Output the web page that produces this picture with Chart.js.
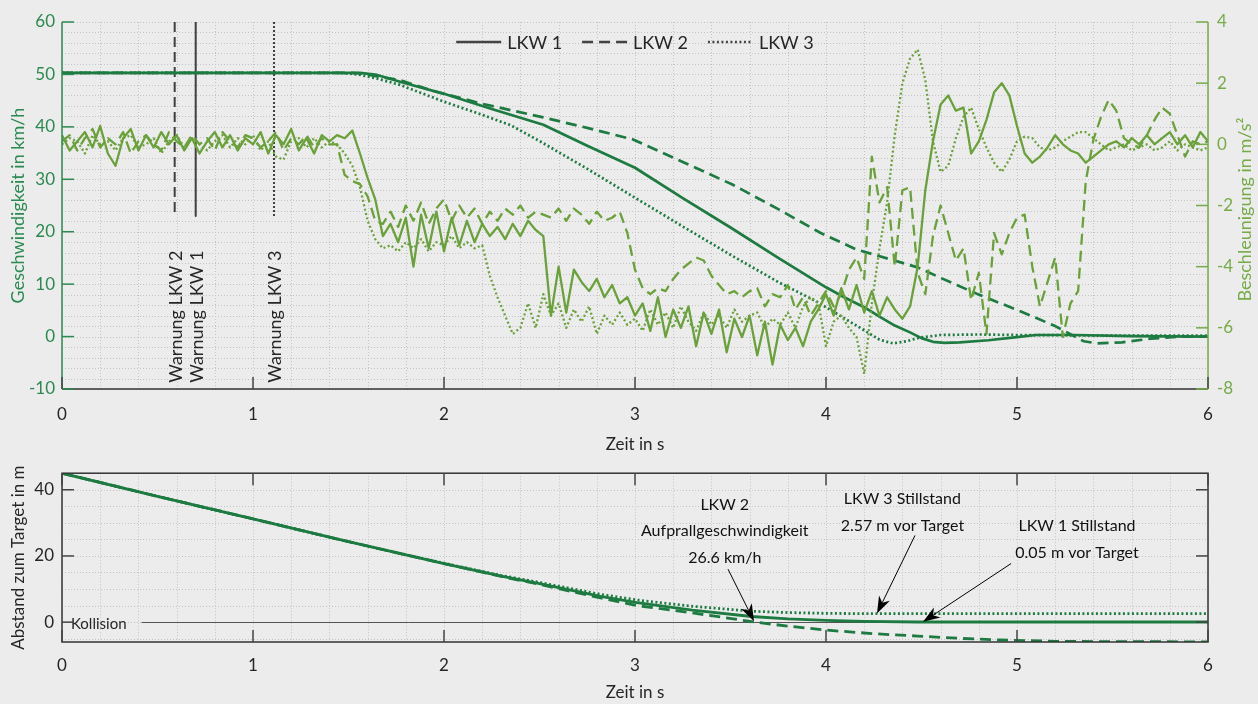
<!DOCTYPE html>
<html>
<head>
<meta charset="utf-8">
<script src="https://cdn.jsdelivr.net/npm/chart.js@4.4.1/dist/chart.umd.min.js"></script>
<style>
  html, body { margin: 0; padding: 0; background: #ececec; }
  #wrap { position: relative; width: 1258px; height: 704px; overflow: hidden; }
  #topChart { position: absolute; left: 0; top: 0; }
  #bottomChart { position: absolute; left: 0; top: 455px; }
</style>
</head>
<body>
<div id="wrap">
  <canvas id="topChart" width="1258" height="455"></canvas>
  <canvas id="bottomChart" width="1258" height="249"></canvas>
</div>
<script>
// ---- data ----
const trucks = ["LKW 1", "LKW 2", "LKW 3"];

// speed in km/h
const speedT1 = [0, 1.5, 1.56, 1.65, 1.77, 2.0, 2.25, 2.52, 2.75, 3.0, 3.25, 3.5, 3.75, 4.0, 4.1, 4.2, 4.28, 4.36, 4.44, 4.5, 4.56, 4.62, 4.7, 4.85, 5.0, 5.1, 5.3, 5.6, 6.0];
const speedV1 = [50.3, 50.3, 50.3, 49.9, 48.6, 46.3, 43.4, 40.4, 36.4, 32.2, 26.4, 20.8, 15.0, 9.4, 7.4, 5.6, 3.8, 2.1, 0.8, -0.3, -1.0, -1.2, -1.1, -0.7, -0.1, 0.3, 0.3, 0.1, 0.0];
const speedT2 = [0, 1.5, 1.56, 1.77, 1.94, 2.2, 2.52, 2.75, 2.99, 3.25, 3.51, 3.75, 3.97, 4.16, 4.48, 4.6, 4.8, 5.02, 5.2, 5.35, 5.42, 5.55, 5.7, 5.85, 6.0];
const speedV2 = [50.3, 50.3, 50.2, 48.9, 46.9, 44.4, 41.8, 39.8, 37.6, 33.3, 29.0, 24.3, 19.8, 16.6, 13.2, 11.2, 8.0, 4.8, 2.0, -0.9, -1.3, -1.1, -0.4, 0.0, 0.0];
const speedT3 = [0, 1.45, 1.55, 1.65, 1.77, 2.0, 2.2, 2.35, 2.5, 2.75, 2.99, 3.25, 3.5, 3.75, 3.95, 4.1, 4.2, 4.28, 4.35, 4.42, 4.49, 4.6, 4.8, 5.0, 5.5, 6.0];
const speedV3 = [50.3, 50.3, 50.0, 49.2, 48.0, 44.8, 42.3, 40.3, 37.3, 32.0, 26.7, 21.0, 15.6, 10.4, 6.7, 3.4, 1.2, -0.6, -1.3, -0.9, -0.2, 0.3, 0.4, 0.3, 0.2, 0.2];

// acceleration in m/s^2, sampled every 0.04 s
const accT = [
  0, 0.04, 0.08, 0.12, 0.16, 0.2, 0.24, 0.28, 0.32, 0.36, 0.4, 0.44, 0.48, 0.52, 0.56, 0.6, 0.64, 0.68, 0.72, 0.76, 0.8, 0.84, 0.88, 0.92, 0.96,
  1, 1.04, 1.08, 1.12, 1.16, 1.2, 1.24, 1.28, 1.32, 1.36, 1.4, 1.44, 1.48, 1.52, 1.56, 1.6, 1.64, 1.68, 1.72, 1.76, 1.8, 1.84, 1.88, 1.92, 1.96,
  2, 2.04, 2.08, 2.12, 2.16, 2.2, 2.24, 2.28, 2.32, 2.36, 2.4, 2.44, 2.48, 2.52, 2.56, 2.6, 2.64, 2.68, 2.72, 2.76, 2.8, 2.84, 2.88, 2.92, 2.96,
  3, 3.04, 3.08, 3.12, 3.16, 3.2, 3.24, 3.28, 3.32, 3.36, 3.4, 3.44, 3.48, 3.52, 3.56, 3.6, 3.64, 3.68, 3.72, 3.76, 3.8, 3.84, 3.88, 3.92, 3.96,
  4, 4.04, 4.08, 4.12, 4.16, 4.2, 4.24, 4.28, 4.32, 4.36, 4.4, 4.44, 4.48, 4.52, 4.56, 4.6, 4.64, 4.68, 4.72, 4.76, 4.8, 4.84, 4.88, 4.92, 4.96,
  5, 5.04, 5.08, 5.12, 5.16, 5.2, 5.24, 5.28, 5.32, 5.36, 5.4, 5.44, 5.48, 5.52, 5.56, 5.6, 5.64, 5.68, 5.72, 5.76, 5.8, 5.84, 5.88, 5.92, 5.96,
  6
];
const acc1 = [
  0.3, -0.2, 0.1, 0.4, -0.1, 0.6, -0.3, -0.7, 0.2, 0.5, -0.2, 0.3, -0.1, 0.4, 0.0, 0.3, -0.2, 0.2, -0.3, 0.1, 0.4, -0.1, 0.3, -0.2, 0.2,
  0.0, 0.4, -0.3, 0.3, 0.0, 0.5, -0.2, 0.2, -0.3, 0.3, 0.1, 0.3, 0.2, 0.45, -0.3, -1.1, -1.8, -3.0, -2.6, -3.2, -2.4, -4.0, -2.3, -3.4, -2.2,
  -3.5, -2.4, -3.3, -2.5, -3.2, -2.6, -3.0, -2.7, -3.1, -2.6, -3.0, -2.5, -2.8, -3.0, -5.6, -4.0, -5.5, -4.1, -4.5, -4.8, -4.4, -5.0, -4.6, -5.2, -5.0,
  -5.6, -5.2, -6.1, -5.0, -6.3, -5.4, -6.0, -5.3, -6.6, -5.5, -6.2, -5.4, -6.8, -5.7, -6.3, -5.6, -6.9, -5.8, -7.2, -5.9, -6.4, -6.0, -6.6, -5.8, -5.4,
  -4.9, -5.6, -4.7, -5.4, -4.6, -5.5, -4.8, -5.6, -5.0, -5.4, -5.7, -5.3, -4.0, -1.5, 0.1, 1.3, 1.6, 1.1, 1.2, -0.3, 0.1, 0.8, 1.7, 2.0, 1.6,
  0.6, -0.3, -0.6, -0.4, -0.1, 0.3, 0.0, -0.2, -0.3, -0.6, -0.4, -0.2, 0.0, 0.1, -0.1, 0.2, 0.0, 0.3, 0.0, 0.2, 0.4, 0.0, 0.3, -0.1, 0.4,
  0.1
];
const acc2 = [
  0.1, 0.3, -0.2, 0.2, 0.5, -0.1, 0.2, 0.0, 0.4, -0.3, 0.1, 0.3, 0.0, -0.2, 0.4, 0.1, -0.1, 0.3, 0.0, 0.2, -0.2, 0.4, 0.1, -0.1, 0.3,
  0.2, -0.1, 0.1, 0.4, -0.2, 0.2, 0.0, 0.3, -0.1, 0.2, 0.0, 0.0, -1.0, -1.2, -1.3, -1.7, -2.5, -2.6, -2.2, -2.7, -2.0, -2.5, -1.9, -2.6, -2.1,
  -1.8, -2.5, -2.0, -2.4, -2.1, -2.6, -2.2, -2.5, -2.1, -2.3, -2.0, -2.4, -2.2, -2.3, -2.4, -2.1, -2.5, -2.1, -2.3, -2.6, -2.2, -2.5, -2.4, -2.2, -2.9,
  -4.1, -4.7, -4.9, -4.7, -4.8, -4.4, -4.1, -3.9, -3.7, -3.8, -4.3, -4.6, -4.9, -4.8, -5.0, -4.8, -4.7, -5.3, -4.9, -5.0, -4.6, -5.4, -5.0, -5.6, -5.2,
  -4.8, -5.3, -4.9, -4.1, -3.7, -4.4, -0.4, -1.9, -1.4, -4.0, -1.5, -1.4, -4.2, -4.9, -3.0, -2.0, -2.9, -3.8, -3.4, -5.1, -4.2, -6.2, -2.9, -3.6, -2.9,
  -2.4, -2.3, -4.0, -5.3, -4.5, -3.7, -6.3, -5.2, -4.8, -1.2, 0.15, 0.9, 1.45, 1.1, 0.2, 0.0, -0.1, 0.3, 0.8, 1.2, 1.0, 0.3, -0.4, 0.1, 0.0,
  0.1
];
const acc3 = [
  0.0, 0.2, 0.1, -0.3, 0.3, 0.0, 0.1, -0.2, 0.2, 0.3, -0.1, 0.0, 0.2, -0.3, 0.1, 0.3, -0.1, 0.2, 0.0, -0.2, 0.1, 0.3, -0.1, 0.2, 0.0,
  0.3, -0.2, 0.1, -0.4, -0.5, 0.1, 0.2, -0.1, 0.2, -0.1, 0.1, 0.0, -0.3, -0.7, -1.4, -2.5, -3.1, -3.4, -3.3, -3.5, -3.2, -3.4, -3.1, -3.5, -3.2,
  -3.3, -3.0, -3.4, -3.2, -3.4, -3.3, -4.3, -5.0, -5.6, -6.2, -6.0, -5.2, -6.0, -4.9, -5.6, -5.2, -6.0, -5.4, -5.8, -5.3, -6.2, -5.6, -5.9, -5.5, -5.9,
  -5.7, -6.1, -5.4, -5.9, -5.5, -6.0, -5.3, -5.8, -6.1, -5.5, -5.9, -5.6, -6.0, -5.4, -5.8, -5.6, -5.5, -6.0, -5.7, -5.9, -5.5, -6.0, -5.3, -5.0, -5.2,
  -6.6, -5.8, -5.6, -6.0, -6.3, -7.5, -5.2, -3.4, -1.9, 0.3, 2.0, 2.8, 3.1, 2.1, 0.1, -0.9, -0.7, 0.2, 0.9, 1.2, 0.5, -0.1, -0.6, -0.9, -0.5,
  0.1, 0.25, 0.2, -0.1, -0.2, -0.1, 0.1, 0.25, 0.4, 0.4, 0.2, 0.0, -0.2, -0.1, 0.0, -0.2, -0.1, 0.0, -0.2, -0.1, 0.1, -0.2, 0.0, -0.1, -0.2,
  -0.1
];

// warnings (time in s)
const warnLabels = ["Warnung LKW 2", "Warnung LKW 1", "Warnung LKW 3"];
const warnTruck = ["LKW 2", "LKW 1", "LKW 3"];
const warnTimes = [0.59, 0.70, 1.11];

// distance to target in m
const distT1 = [0, 0.5, 1.0, 1.5, 2.0, 2.3, 2.5, 2.82, 3.01, 3.3, 3.61, 3.8, 4.0, 4.2, 4.48, 4.7, 6.0];
const distV1 = [45, 38.0, 31.2, 24.3, 17.7, 13.9, 11.6, 7.8, 5.9, 3.6, 1.7, 1.0, 0.56, 0.25, 0.05, 0.05, 0.05];
const distT2 = [0, 0.5, 1.0, 1.5, 2.0, 2.3, 2.5, 2.82, 3.01, 3.3, 3.63, 3.8, 4.0, 4.25, 4.48, 4.7, 4.91, 5.2, 5.5, 6.0];
const distV2 = [45, 38.0, 31.2, 24.3, 17.7, 13.8, 11.4, 7.3, 5.0, 2.8, 0.0, -1.2, -2.4, -3.5, -4.2, -4.9, -5.4, -5.8, -5.9, -5.95];
const distT3 = [0, 0.5, 1.0, 1.5, 2.0, 2.3, 2.5, 2.82, 3.01, 3.3, 3.61, 3.8, 4.0, 4.2, 6.0];
const distV3 = [45, 38.0, 31.2, 24.3, 17.8, 14.1, 12.0, 8.4, 6.7, 4.8, 3.3, 2.9, 2.65, 2.57, 2.57];

// ---- styles ----
const FONT = "Lato";
const INK = "#262626";
const GRID = "#c4c4c4";
const C_SPEED = "#1d7a41";
const C_ACC = "#6aa13a";
const C_SPEED_AX = "#2a8a50";
const C_ACC_AX = "#76ab48";
const dash = { "LKW 1": [], "LKW 2": [11, 6], "LKW 3": [2, 2.5] };
const warnDash = { "LKW 1": [], "LKW 2": [10, 5], "LKW 3": [2, 2] };
const WARN_TOP = 60, WARN_BOTTOM = 23, WARN_LABEL_AT = -8.8;

const pts = (ts, vs) => ts.map((t, i) => ({ x: t, y: vs[i] }));

function line(data, color, width, d, axis) {
  return { data, borderColor: color, borderWidth: width, borderDash: d, yAxisID: axis,
           pointRadius: 0, tension: 0, borderJoinStyle: "round", fill: false };
}

function dottedGrid(ctx, a, xs, ys) {
  ctx.save();
  ctx.strokeStyle = GRID;
  ctx.lineWidth = 1;
  ctx.setLineDash([1, 2]);
  ctx.beginPath();
  xs.forEach(px => { px = Math.round(px) + 0.5; ctx.moveTo(px, a.top); ctx.lineTo(px, a.bottom); });
  ys.forEach(py => { py = Math.round(py) + 0.5; ctx.moveTo(a.left, py); ctx.lineTo(a.right, py); });
  ctx.stroke();
  ctx.restore();
}

function seg(ctx, x0, y0, x1, y1, color, w) {
  ctx.strokeStyle = color;
  ctx.lineWidth = w;
  ctx.beginPath();
  ctx.moveTo(x0, y0);
  ctx.lineTo(x1, y1);
  ctx.stroke();
}

function arrow(ctx, x0, y0, x1, y1) {
  const dx = x1 - x0, dy = y1 - y0, len = Math.hypot(dx, dy);
  const ux = dx / len, uy = dy / len;
  const L = 17, W = 6, N = 12;
  ctx.save();
  ctx.setLineDash([]);
  seg(ctx, x0, y0, x1 - ux * N, y1 - uy * N, "#000", 1);
  ctx.fillStyle = "#000";
  ctx.beginPath();
  ctx.moveTo(x1, y1);
  ctx.lineTo(x1 - ux * L - uy * W, y1 - uy * L + ux * W);
  ctx.lineTo(x1 - ux * N, y1 - uy * N);
  ctx.lineTo(x1 - ux * L + uy * W, y1 - uy * L - ux * W);
  ctx.closePath();
  ctx.fill();
  ctx.restore();
}

const range = (a, b, s) => { const r = []; for (let i = 0; a + i * s <= b + 1e-9; i++) r.push(+(a + i * s).toFixed(4)); return r; };

// ---- top chart: speed + acceleration ----
const topPlugin = {
  id: "topFrame",
  beforeDatasetsDraw(chart) {
    const { ctx, chartArea: a, scales: { x, y } } = chart;
    dottedGrid(ctx, a, range(0, 6, 0.2).map(v => x.getPixelForValue(v)), range(-10, 60, 2).map(v => y.getPixelForValue(v)));
  },
  afterDatasetsDraw(chart) {
    const { ctx, chartArea: a, scales: { x, y, y2 } } = chart;
    ctx.save();
    // spines
    seg(ctx, a.left, a.bottom, a.right, a.bottom, "#333", 1.5);
    seg(ctx, a.left, a.top, a.left, a.bottom, C_SPEED_AX, 1.5);
    seg(ctx, a.right, a.top, a.right, a.bottom, C_ACC_AX, 1.5);
    // ticks
    range(0, 6, 1).forEach(v => { const p = x.getPixelForValue(v); seg(ctx, p, a.bottom, p, a.bottom - 12, "#444", 1.5); });
    range(-10, 60, 10).forEach(v => { const p = y.getPixelForValue(v); seg(ctx, a.left, p, a.left + 12, p, C_SPEED_AX, 1.5); });
    range(-8, 4, 2).forEach(v => { const p = y2.getPixelForValue(v); seg(ctx, a.right, p, a.right - 12, p, C_ACC_AX, 1.5); });

    // right axis title, reading upwards like the left one
    ctx.font = "18px " + FONT;
    ctx.fillStyle = C_ACC_AX;
    ctx.textAlign = "center";
    ctx.textBaseline = "middle";
    ctx.save();
    ctx.translate(a.right + 37, (a.top + a.bottom) / 2 + 4);
    ctx.rotate(-Math.PI / 2);
    ctx.fillText("Beschleunigung in m/s²", 0, 0);
    ctx.restore();

    // warning labels
    ctx.fillStyle = INK;
    ctx.textAlign = "left";
    warnTimes.forEach((t, i) => {
      ctx.save();
      ctx.translate(x.getPixelForValue(t) + 1, y.getPixelForValue(WARN_LABEL_AT));
      ctx.rotate(-Math.PI / 2);
      ctx.fillText(warnLabels[i], 0, 0);
      ctx.restore();
    });

    // legend
    const sample = 45, gapS = 6, gapI = 20;
    const widths = trucks.map(t => ctx.measureText(t).width);
    const total = widths.reduce((s, w) => s + sample + gapS + w, 0) + gapI * (trucks.length - 1);
    let lx = (a.left + a.right) / 2 - total / 2;
    const ly = a.top + 20;
    trucks.forEach((t, i) => {
      ctx.setLineDash(dash[t]);
      seg(ctx, lx, ly, lx + sample, ly, "#444", 2.5);
      ctx.setLineDash([]);
      ctx.fillStyle = INK;
      ctx.fillText(t, lx + sample + gapS, ly + 1);
      lx += sample + gapS + widths[i] + gapI;
    });
    ctx.restore();
  }
};

const accSeries = [acc1, acc2, acc3];
const speedSeries = [pts(speedT1, speedV1), pts(speedT2, speedV2), pts(speedT3, speedV3)];
const topDatasets = [];
trucks.forEach((t, i) => topDatasets.push(line(pts(accT, accSeries[i]), C_ACC, 2.3, dash[t], "y2")));
trucks.forEach((t, i) => topDatasets.push(line(speedSeries[i], C_SPEED, 2.7, dash[t], "y")));
warnTimes.forEach((t, i) => topDatasets.push(line([{ x: t, y: WARN_TOP }, { x: t, y: WARN_BOTTOM }], "#404040", 2, warnDash[warnTruck[i]], "y")));

const tickFont = { family: FONT, size: 17 };
const titleFont = { family: FONT, size: 18 };

new Chart(document.getElementById("topChart"), {
  type: "line",
  data: { datasets: topDatasets },
  options: {
    responsive: false,
    animation: false,
    devicePixelRatio: 1,
    layout: { padding: { top: 22, left: 0, right: 0, bottom: 0 } },
    plugins: { legend: { display: false }, tooltip: { enabled: false } },
    scales: {
      x: {
        type: "linear", min: 0, max: 6,
        ticks: { stepSize: 1, color: INK, font: tickFont, padding: 15, maxRotation: 0 },
        grid: { display: false, drawTicks: false }, border: { display: false },
        title: { display: true, text: "Zeit in s", color: INK, font: { family: FONT, size: 17 }, padding: { top: 0, bottom: 0 } },
        afterFit: s => { s.height = 66; }
      },
      y: {
        position: "left", min: -10, max: 60,
        ticks: { stepSize: 10, color: C_SPEED_AX, font: tickFont, padding: 7 },
        grid: { display: false, drawTicks: false }, border: { display: false },
        title: { display: true, text: "Geschwindigkeit in km/h", color: C_SPEED_AX, font: titleFont, padding: { top: 7, bottom: 0 } },
        afterFit: s => { s.width = 62; }
      },
      y2: {
        position: "right", min: -8, max: 4,
        ticks: { stepSize: 2, color: C_ACC_AX, font: tickFont, padding: 9 },
        grid: { display: false, drawTicks: false }, border: { display: false },
        afterFit: s => { s.width = 50; }
      }
    }
  },
  plugins: [topPlugin]
});

// ---- bottom chart: distance ----
const annotations = [
  { lines: ["LKW 2", "Aufprallgeschwindigkeit", "26.6 km/h"], t: 3.47, d: [35.4, 27.5, 19.4], tail: [3.487, 16.0], tip: [3.623, 0.3] },
  { lines: ["LKW 3 Stillstand", "2.57 m vor Target"], t: 4.40, d: [37.4, 29.2], tail: [4.466, 26.2], tip: [4.267, 2.6] },
  { lines: ["LKW 1 Stillstand", "0.05 m vor Target"], t: 5.314, d: [29.0, 20.8], tail: [4.969, 17.7], tip: [4.508, 0.1] }
];

const bottomPlugin = {
  id: "bottomFrame",
  beforeDatasetsDraw(chart) {
    const { ctx, chartArea: a, scales: { x, y } } = chart;
    dottedGrid(ctx, a, range(0, 6, 0.2).map(v => x.getPixelForValue(v)), range(-5, 45, 5).map(v => y.getPixelForValue(v)));
    // collision line
    ctx.save();
    ctx.font = "15px " + FONT;
    const label = "Kollision";
    const lx = a.left + 9;
    const w = ctx.measureText(label).width;
    const py = Math.round(y.getPixelForValue(0)) + 0.5;
    seg(ctx, lx + w + 15, py, a.right, py, "#555", 1);
    ctx.fillStyle = INK;
    ctx.textAlign = "left";
    ctx.textBaseline = "middle";
    ctx.fillText(label, lx, py + 2);
    ctx.restore();
  },
  afterDatasetsDraw(chart) {
    const { ctx, chartArea: a, scales: { x, y } } = chart;
    ctx.save();
    ctx.strokeStyle = "#333";
    ctx.lineWidth = 1.5;
    ctx.strokeRect(a.left, a.top, a.right - a.left, a.bottom - a.top);
    range(0, 6, 1).forEach(v => {
      const p = x.getPixelForValue(v);
      seg(ctx, p, a.bottom, p, a.bottom - 12, "#444", 1.5);
      seg(ctx, p, a.top, p, a.top + 12, "#444", 1.5);
    });
    [0, 20, 40].forEach(v => {
      const p = y.getPixelForValue(v);
      seg(ctx, a.left, p, a.left + 12, p, "#444", 1.5);
      seg(ctx, a.right, p, a.right - 12, p, "#444", 1.5);
    });
    ctx.font = "16px " + FONT;
    ctx.fillStyle = "#111";
    ctx.textAlign = "center";
    ctx.textBaseline = "middle";
    annotations.forEach(an => {
      an.lines.forEach((txt, k) => ctx.fillText(txt, x.getPixelForValue(an.t), y.getPixelForValue(an.d[k])));
      arrow(ctx, x.getPixelForValue(an.tail[0]), y.getPixelForValue(an.tail[1]),
                 x.getPixelForValue(an.tip[0]), y.getPixelForValue(an.tip[1]));
    });
    ctx.restore();
  }
};

const distSeries = [pts(distT1, distV1), pts(distT2, distV2), pts(distT3, distV3)];

new Chart(document.getElementById("bottomChart"), {
  type: "line",
  data: { datasets: trucks.map((t, i) => line(distSeries[i], C_SPEED, 2.8, dash[t], "y")) },
  options: {
    responsive: false,
    animation: false,
    devicePixelRatio: 1,
    layout: { padding: { top: 6, left: 0, right: 50, bottom: 0 } },
    plugins: { legend: { display: false }, tooltip: { enabled: false } },
    scales: {
      x: {
        type: "linear", min: 0, max: 6,
        ticks: { stepSize: 1, color: INK, font: tickFont, padding: 13, maxRotation: 0 },
        grid: { display: false, drawTicks: false }, border: { display: false },
        title: { display: true, text: "Zeit in s", color: INK, font: { family: FONT, size: 17 }, padding: { top: 0, bottom: 1 } },
        afterFit: s => { s.height = 62; }
      },
      y: {
        position: "left", min: -6, max: 45,
        ticks: { stepSize: 20, includeBounds: false, color: INK, font: tickFont, padding: 8 },
        grid: { display: false, drawTicks: false }, border: { display: false },
        title: { display: true, text: "Abstand zum Target in m", color: INK, font: { family: FONT, size: 17 }, padding: { top: 8, bottom: 0 } },
        afterFit: s => { s.width = 62; }
      }
    }
  },
  plugins: [bottomPlugin]
});
</script>
</body>
</html>
